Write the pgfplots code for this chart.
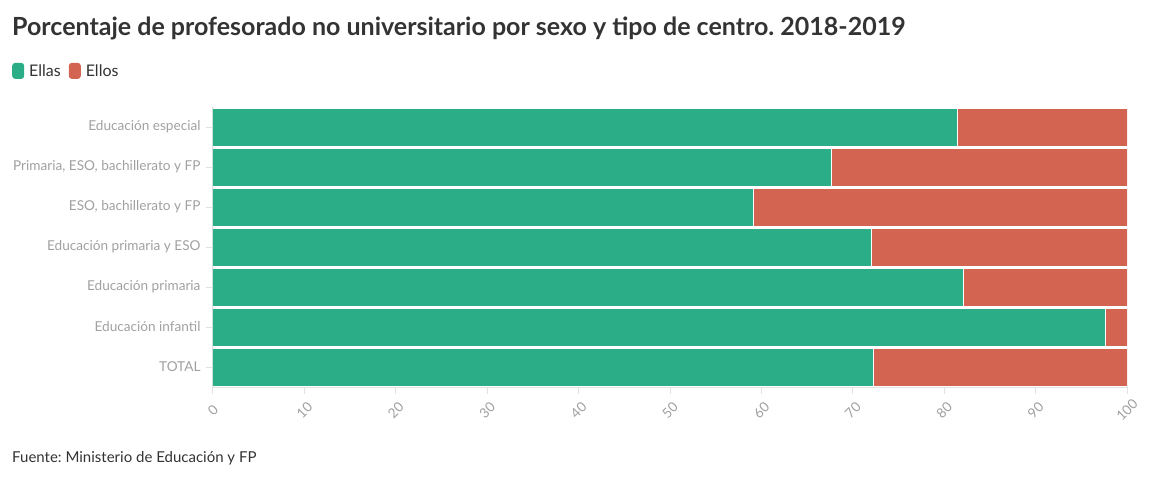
\documentclass[border=0pt]{standalone}
\usepackage{fontspec}
\setmainfont{Lato}
\usepackage{pgfplots}
\pgfplotsset{compat=1.18}
\definecolor{ellas}{RGB}{43,174,135}
\definecolor{ellos}{RGB}{211,100,82}
\definecolor{axgray}{RGB}{226,226,226}
\definecolor{lblgray}{RGB}{160,160,160}
\definecolor{txt}{RGB}{51,51,51}
\frenchspacing

\begin{document}
\begin{tikzpicture}[x=1pt,y=1pt]
\path (0,0) rectangle (1152,-478);
\node[anchor=base west, inner sep=0, text=txt,
  font=\fontsize{25}{29}\selectfont\bfseries] at (12,-36)
  {Porcentaje de profesorado no universitario por sexo y tipo de centro. 2018-2019};
\node[anchor=base west, inner sep=0, text=txt,
  font=\fontsize{15}{18}\selectfont] at (12,-462)
  {Fuente: Ministerio de Educación y FP};
\begin{axis}[
  at={(213pt,-387pt)}, anchor=south west,
  width=914pt, height=280pt, scale only axis,
  xbar stacked, bar width=38pt,
  xmin=0, xmax=100, ymin=-0.5, ymax=6.5,
  ytick={0,...,6},
  yticklabels={TOTAL, Educación infantil, Educación primaria,
    Educación primaria y ESO, {ESO, bachillerato y FP},
    {Primaria, ESO, bachillerato y FP}, Educación especial},
  xtick={0,10,...,100},
  axis x line*=bottom, axis y line*=left,
  axis line style={axgray, line width=1.5pt},
  tick style={axgray, line width=1pt},
  major tick length=7pt, tick align=outside,
  /pgf/number format/assume math mode=true,
  yticklabel style={font=\fontsize{13.6}{15}\selectfont, text=lblgray,
    xshift=-2pt},
  xticklabel style={font=\fontsize{13.6}{15}\selectfont, text=lblgray,
    yshift=-16pt, rotate=45, anchor=center, inner sep=0pt},
  legend style={at={(-0.2199,1.129)}, anchor=west, draw=none, fill=none,
    legend columns=-1, font=\fontsize{16}{18}\selectfont, text=txt,
    inner sep=0pt,
    nodes={inner sep=0pt},
    /tikz/every odd column/.append style={column sep=5pt},
    /tikz/every even column/.append style={column sep=8pt}},
  legend image code/.code={\path[#1, draw=none, rounded corners=3pt]
    (0pt,-8pt) rectangle (12pt,8pt);},
]
\addplot[fill=ellas, draw=white, line width=1pt] coordinates
  {(72.3,0) (97.6,1) (82.1,2) (72.1,3) (59.1,4) (67.7,5) (81.5,6)};
\addplot[fill=ellos, draw=white, line width=1pt] coordinates
  {(27.7,0) (2.4,1) (17.9,2) (27.9,3) (40.9,4) (32.3,5) (18.5,6)};
\legend{Ellas, Ellos}
\end{axis}
\end{tikzpicture}
\end{document}
